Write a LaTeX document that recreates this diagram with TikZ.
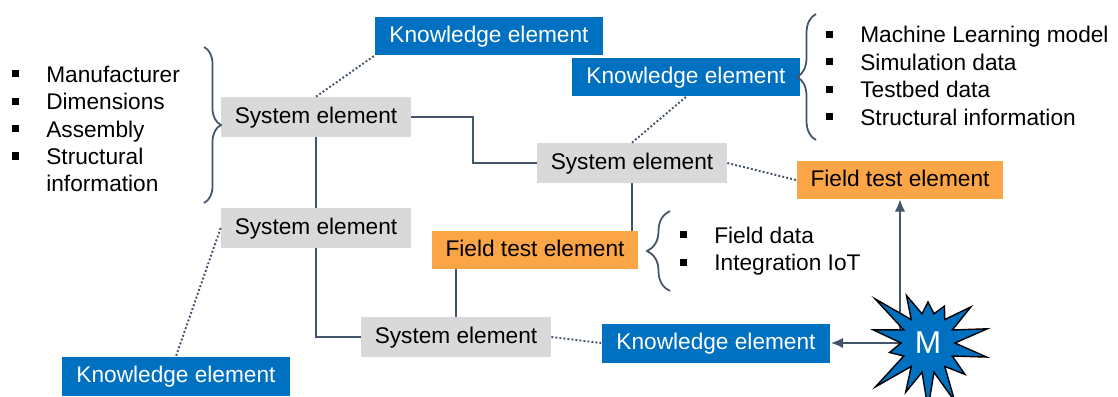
\documentclass[tikz,border=0pt]{standalone}
\usepackage{fontspec}
\setmainfont{Liberation Sans}
\usetikzlibrary{shapes.symbols,arrows.meta,decorations.pathreplacing,backgrounds}

\definecolor{keblue}{HTML}{0070C0}
\definecolor{ftorange}{HTML}{FBA546}
\definecolor{segray}{HTML}{D9D9D9}
\definecolor{linkcol}{HTML}{44546A}

% square bullet for the lists
\newcommand{\bul}{\makebox[0.68cm][l]{\rule[0.22em]{4pt}{4pt}}}

\begin{document}
\begin{tikzpicture}[x=0.02cm, y=-0.02cm, every node/.style={font=\fontsize{12.9}{15.6}\selectfont},
    elem/.style={text height=0.72em, text depth=0pt, inner sep=0},
    knowbox/.style={elem, fill=keblue, text=white, minimum width=4.58cm, minimum height=0.78cm},
    sysbox/.style={elem, fill=segray, minimum width=3.8cm, minimum height=0.8cm},
    fieldbox/.style={elem, fill=ftorange, minimum width=4.14cm, minimum height=0.76cm},
    link/.style={draw=linkcol, line width=1.1pt},
    dots/.style={draw=linkcol, line width=1.1pt, dash pattern=on 1.1pt off 1.2pt},
    arr/.style={link, -{Latex[length=7pt,width=6pt]}},
    curly/.style={draw=linkcol, line width=1pt, decorate, decoration={brace, amplitude=#1}},
    listing/.style={anchor=west, align=left, inner sep=0}]
            \clip (0,0) rectangle (1118,396);
            \useasboundingbox (0,0) rectangle (1118,396);

            % element boxes
            \node[knowbox] (ke1) at (489,36) {Knowledge element};
            \node[sysbox] (se1) at (316,117) {System element};
            \node[knowbox] (ke2) at (686,77) {Knowledge element};
            \node[sysbox] (se2) at (632,163) {System element};
            \node[fieldbox] (fte2) at (900,180) {Field test element};
            \node[sysbox] (se3) at (316,228) {System element};
            \node[fieldbox] (fte1) at (535,250) {Field test element};
            \node[sysbox] (se4) at (456,337) {System element};
            \node[knowbox] (ke4) at (176,376) {Knowledge element};
            \node[knowbox] (ke5) at (716,343) {Knowledge element};

            % attribute lists
            \node[listing] (specs) at (12,129) {\bul Manufacturer\\ \bul Dimensions\\ \bul Assembly\\ \bul Structural\\ \hspace*{0.68cm}information};
            \node[listing] (models) at (826,76) {\bul Machine Learning model\\ \bul Simulation data\\ \bul Testbed data\\ \bul Structural information};
            \node[listing] (fielddata) at (680,251) {\bul Field data\\ \bul Integration IoT};

            \draw[curly=0.34cm] (204,47) -- (204,203);
            \draw[curly=0.38cm] (816,140) -- (816,14);
            \draw[curly=0.46cm] (670,291) -- (670,211);

            % hierarchy
            \draw[link] (se1.east) -- ++(62,0) |- (se2.west);
            \draw[link] (se1.south) -- (se3.north);
            \draw[link] (se3.south) |- (se4.west);
            \draw[link] (se2.south) -- (se2.south |- fte1.north);
            \draw[link] (se4.north) -- (se4.north |- fte1.south);

            % knowledge links
            \draw[dots] (se1.north) -- (ke1.south west);
            \draw[dots] (se2.north) -- (ke2.south);
            \draw[dots] (se2.east) -- (fte2.west);
            \draw[dots] (se3.west) -- (ke4.north);
            \draw[dots] (se4.east) -- (ke5.west);

            \node[starburst, starburst points=14, starburst point height=0.85cm, random starburst=23,
                  minimum width=2.6cm, minimum height=2.9cm, fill=keblue, draw=black, line width=0.8pt,
                  text=white, font=\fontsize{18}{20}\selectfont] (m) at (928,343) {M};

            \begin{scope}[on background layer]
                \draw[arr] (m.center) -- (ke5.east);
                \draw[arr] (fte2.south |- m.center) -- (fte2.south);
            \end{scope}
        \end{tikzpicture}
\end{document}
